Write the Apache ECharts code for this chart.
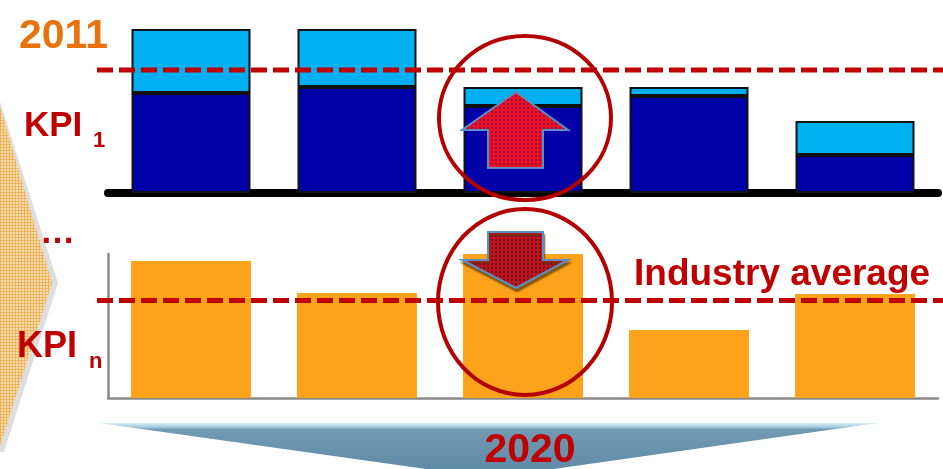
<!DOCTYPE html>
<html>
<head>
<meta charset="utf-8">
<script src="https://cdn.jsdelivr.net/npm/echarts@6/dist/echarts.min.js"></script>
<style>
html,body{margin:0;padding:0;background:#ffffff;}
#chart{width:943px;height:469px;}
</style>
</head>
<body>
<div id="chart"></div>
<script>
// ---- data ----
var categories = ['1', '2', '3', '4', '5'];
var kpi1Base = [61, 64.6, 53, 59.1, 23.2];      // dark blue part
var kpi1Gap = [39, 35.4, 11.6, 5.5, 20.7];      // light blue part
var kpi1Average = 75;
var kpiNValues = [95.1, 72.9, 100, 47.2, 72.2];
var kpiNAverage = 67.7;
var yearStart = '2011';
var yearEnd = '2020';

function makePattern(w, h, base, dot, step) {
  var c = document.createElement('canvas');
  c.width = w; c.height = h;
  var ctx = c.getContext('2d');
  ctx.fillStyle = base; ctx.fillRect(0, 0, w, h);
  ctx.fillStyle = dot;
  for (var x = 0; x < w; x += step) for (var y = 0; y < h; y += step) ctx.fillRect(x, y, 1, 1);
  return { image: c, repeat: 'repeat' };
}
function makeGridPattern(size, base, line) {
  var c = document.createElement('canvas');
  c.width = size; c.height = size;
  var ctx = c.getContext('2d');
  ctx.fillStyle = base; ctx.fillRect(0, 0, size, size);
  ctx.fillStyle = line;
  ctx.fillRect(0, 0, size, 1);
  ctx.fillRect(0, 0, 1, size);
  return { image: c, repeat: 'repeat' };
}

var chart = echarts.init(document.getElementById('chart'), null, { renderer: 'canvas' });
var RED = '#C00000';
var FONT = 'Liberation Sans, Arial, sans-serif';

var option = {
  animation: false,
  backgroundColor: '#ffffff',
  grid: [
    { left: 108, top: 29, width: 830, height: 164 },
    { left: 97, top: 29, width: 846, height: 164 },
    { left: 108, top: 254, width: 830, height: 144 },
    { left: 97, top: 254, width: 846, height: 144 }
  ],
  xAxis: [
    { gridIndex: 0, type: 'category', data: categories, offset: 4,
      axisLine: { lineStyle: { color: '#000', width: 8 } },
      axisTick: { show: false }, axisLabel: { show: false } },
    { gridIndex: 1, type: 'value', min: 0, max: 1, show: false },
    { gridIndex: 2, type: 'category', data: categories,
      axisLine: { lineStyle: { color: '#8a8a8a', width: 2.5 } },
      axisTick: { show: false }, axisLabel: { show: false } },
    { gridIndex: 3, type: 'value', min: 0, max: 1, show: false }
  ],
  yAxis: [
    { gridIndex: 0, type: 'value', min: 0, max: 100, show: false },
    { gridIndex: 1, type: 'value', min: 0, max: 100, show: false },
    { gridIndex: 2, type: 'value', min: 0, max: 100,
      axisLine: { show: true, lineStyle: { color: '#8a8a8a', width: 2.5 } },
      axisTick: { show: false }, axisLabel: { show: false }, splitLine: { show: false } },
    { gridIndex: 3, type: 'value', min: 0, max: 100, show: false }
  ],
  series: [
    { type: 'bar', xAxisIndex: 0, yAxisIndex: 0, stack: 'k1', data: kpi1Base, barWidth: 119,
      itemStyle: { color: '#0000A8', borderColor: '#111', borderWidth: 2 }, z: 2 },
    { type: 'bar', xAxisIndex: 0, yAxisIndex: 0, stack: 'k1', data: kpi1Gap, barWidth: 119,
      itemStyle: { color: '#00B0F0', borderColor: '#111', borderWidth: 2 }, z: 2 },
    { type: 'line', xAxisIndex: 1, yAxisIndex: 1, symbol: 'none', z: 5,
      data: [[0, kpi1Average], [1, kpi1Average]],
      lineStyle: { color: RED, width: 5, type: [16, 6] } },
    { type: 'bar', xAxisIndex: 2, yAxisIndex: 2, data: kpiNValues, barWidth: 120,
      itemStyle: { color: '#FDA31B' }, z: 2 },
    { type: 'line', xAxisIndex: 3, yAxisIndex: 3, symbol: 'none', z: 5,
      data: [[0, kpiNAverage], [1, kpiNAverage]],
      lineStyle: { color: RED, width: 5, type: [16, 6] } }
  ],
  graphic: [
    // left chevron
    { type: 'polygon', z: 0, shape: { points: [[0, 102], [58, 283], [4, 452], [0, 452]] }, style: { fill: '#dedede' } },
    { type: 'polygon', z: 1, shape: { points: [[0, 107], [52, 283], [0, 446]] },
      style: { fill: makeGridPattern(3, '#f7dcb4', '#f0b458') } },
    // bottom funnel arrow
    { type: 'polygon', z: 1, shape: { points: [[99, 423], [878, 423], [490, 478]] },
      style: { fill: new echarts.graphic.LinearGradient(0, 0, 0, 1, [
        { offset: 0, color: '#d6eef8' }, { offset: 0.07, color: '#a8cde0' },
        { offset: 0.12, color: '#7199b2' }, { offset: 1, color: '#5d89a6' }]) } },
    // texts
    { type: 'text', z: 20, style: { text: yearStart, x: 19, y: 37, font: 'bold 41px ' + FONT, fill: '#E8730E', textVerticalAlign: 'middle' } },
    { type: 'text', z: 20, style: { text: 'KPI', x: 24, y: 126, font: 'bold 35px ' + FONT, fill: RED, textVerticalAlign: 'middle' } },
    { type: 'text', z: 20, style: { text: '1', x: 93, y: 141, font: 'bold 22px ' + FONT, fill: RED, textVerticalAlign: 'middle' } },
    { type: 'text', z: 20, style: { text: '…', x: 40, y: 233, font: 'bold 35px ' + FONT, fill: RED, textVerticalAlign: 'middle' } },
    { type: 'text', z: 20, style: { text: 'KPI', x: 17, y: 347, font: 'bold 36px ' + FONT, fill: RED, textVerticalAlign: 'middle' } },
    { type: 'text', z: 20, style: { text: 'n', x: 89, y: 362, font: 'bold 22px ' + FONT, fill: RED, textVerticalAlign: 'middle' } },
    { type: 'text', z: 20, style: { text: 'Industry average', x: 634, y: 275, font: 'bold 37px ' + FONT, fill: RED, textVerticalAlign: 'middle' } },
    { type: 'text', z: 20, style: { text: yearEnd, x: 530, y: 451, font: 'bold 41px ' + FONT, fill: RED, textAlign: 'center', textVerticalAlign: 'middle' } },
    // circles
    { type: 'ellipse', z: 15, shape: { cx: 525, cy: 118, rx: 86, ry: 82 }, style: { fill: null, stroke: '#B40000', lineWidth: 4 } },
    { type: 'ellipse', z: 15, shape: { cx: 525, cy: 302, rx: 87, ry: 93 }, style: { fill: null, stroke: '#B40000', lineWidth: 4 } },
    // arrows
    { type: 'polygon', z: 16,
      shape: { points: [[516, 92], [568, 130], [543, 130], [543, 168], [488, 168], [488, 130], [462, 130]] },
      style: { fill: makePattern(4, 4, '#f21020', '#8a1050', 3), stroke: '#5b8fc7', lineWidth: 2 } },
    { type: 'polygon', z: 16,
      shape: { points: [[488, 232], [543, 232], [543, 260], [568, 260], [516, 288], [462, 260], [488, 260]] },
      style: { fill: makePattern(4, 4, '#c0141c', '#6e1020', 3), stroke: '#5b8fc7', lineWidth: 2,
        shadowColor: 'rgba(90,60,0,0.7)', shadowOffsetY: 3, shadowOffsetX: 1, shadowBlur: 2 } }
  ]
};
chart.setOption(option);
</script>
</body>
</html>
